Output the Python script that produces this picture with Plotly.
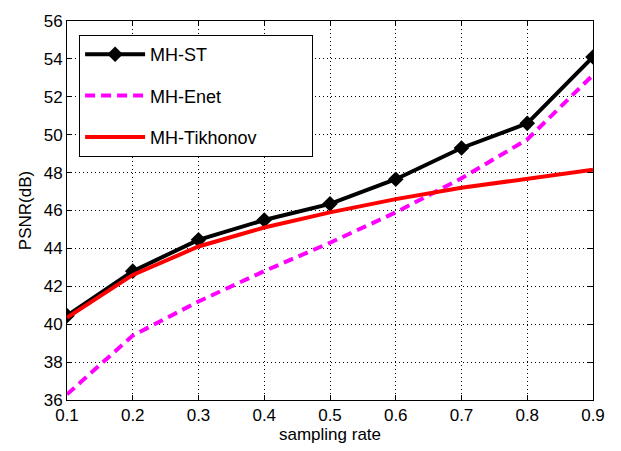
import plotly.graph_objects as go

sampling_rate = [0.1, 0.2, 0.3, 0.4, 0.5, 0.6, 0.7, 0.8, 0.9]
mh_st = [40.45, 42.8, 44.45, 45.5, 46.35, 47.65, 49.3, 50.6, 54.1]
mh_enet = [36.3, 39.4, 41.2, 42.8, 44.3, 45.9, 47.7, 49.75, 53.15]
mh_tikhonov = [40.35, 42.6, 44.1, 45.1, 45.9, 46.6, 47.2, 47.7, 48.15]
series_names = ["MH-ST", "MH-Enet", "MH-Tikhonov"]

x_ticks = [0.1, 0.2, 0.3, 0.4, 0.5, 0.6, 0.7, 0.8, 0.9]
y_ticks = [36, 38, 40, 42, 44, 46, 48, 50, 52, 54, 56]

font_family = "Liberation Sans, Arial, sans-serif"
pad = "\u00a0" * 10  # widen legend box to match reference

fig = go.Figure()
fig.add_trace(go.Scatter(
    x=sampling_rate, y=mh_st, name=series_names[0], mode="lines+markers",
    line=dict(color="black", width=4),
    marker=dict(symbol="diamond", size=12, color="black"),
    legendgroup="a"))
fig.add_trace(go.Scatter(
    x=sampling_rate, y=mh_enet, name=series_names[1], mode="lines",
    line=dict(color="#ff00ff", width=4, dash="10px,6px"),
    legendgroup="b"))
fig.add_trace(go.Scatter(
    x=sampling_rate, y=mh_tikhonov, name=series_names[2] + pad, mode="lines",
    line=dict(color="#ff0000", width=4),
    legendgroup="c"))

axis_common = dict(
    showline=True, linecolor="black", linewidth=1, mirror="ticks",
    ticks="inside", ticklen=5, tickcolor="black",
    showgrid=True, gridcolor="black", gridwidth=1, griddash="1px,3px",
    zeroline=False,
    tickfont=dict(family=font_family, size=17, color="black"),
)

fig.update_xaxes(range=[0.1, 0.9], tickvals=x_ticks,
                 ticktext=[f"{v:g}" for v in x_ticks],
                 title=dict(text="sampling rate", font=dict(family=font_family, size=17, color="black"), standoff=2),
                 **axis_common)
fig.update_yaxes(range=[36, 56], tickvals=y_ticks,
                 title=dict(text="PSNR(dB)", font=dict(family=font_family, size=17, color="black"), standoff=7),
                 **axis_common)

fig.update_layout(
    width=621, height=451,
    margin=dict(l=67, r=28, t=16, b=48),
    plot_bgcolor="white", paper_bgcolor="white",
    font=dict(family=font_family, color="black"),
    legend=dict(
        x=0.023, y=0.963, xanchor="left", yanchor="top",
        bordercolor="black", borderwidth=1, bgcolor="white",
        font=dict(family=font_family, size=18, color="black"),
        traceorder="grouped", tracegroupgap=15, itemwidth=60,
    ),
    showlegend=True,
)

fig.write_html("out.html")
